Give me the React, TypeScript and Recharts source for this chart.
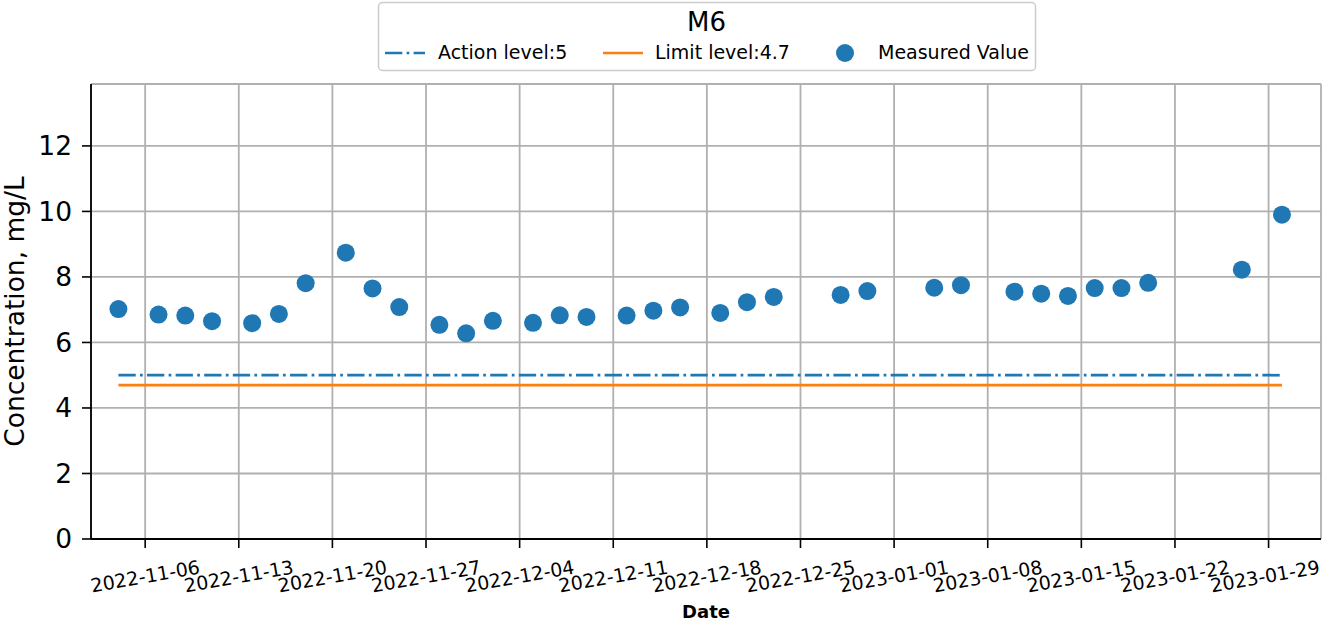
import React from 'react';
import { ScatterChart, Scatter, XAxis, YAxis, CartesianGrid, ReferenceLine } from 'recharts';

const sampleDates = [
  '2022-11-04', '2022-11-07', '2022-11-09', '2022-11-11', '2022-11-14', '2022-11-16', '2022-11-18',
  '2022-11-21', '2022-11-23', '2022-11-25', '2022-11-28', '2022-11-30', '2022-12-02', '2022-12-05',
  '2022-12-07', '2022-12-09', '2022-12-12', '2022-12-14', '2022-12-16', '2022-12-19', '2022-12-21',
  '2022-12-23', '2022-12-28', '2022-12-30', '2023-01-04', '2023-01-06', '2023-01-10', '2023-01-12',
  '2023-01-14', '2023-01-16', '2023-01-18', '2023-01-20', '2023-01-27', '2023-01-30',
];
const measuredValues = [
  7.02, 6.85, 6.82, 6.65, 6.59, 6.87, 7.81,
  8.74, 7.65, 7.08, 6.54, 6.28, 6.66, 6.6,
  6.83, 6.78, 6.82, 6.97, 7.07, 6.9, 7.23,
  7.39, 7.45, 7.57, 7.67, 7.75, 7.55, 7.49,
  7.42, 7.66, 7.66, 7.82, 8.22, 9.9,
];
const actionLevel = 5;
const limitLevel = 4.7;
const xTickDates = [
  '2022-11-06', '2022-11-13', '2022-11-20', '2022-11-27', '2022-12-04', '2022-12-11', '2022-12-18',
  '2022-12-25', '2023-01-01', '2023-01-08', '2023-01-15', '2023-01-22', '2023-01-29',
];
const yTicks = [0, 2, 4, 6, 8, 10, 12];
const xDomainDates = ['2022-11-01.95', '2023-02-01.92'];
const yDomain = [0, 13.89];

const ORIGIN = Date.UTC(2022, 10, 6);
const toDay = (s: string) => {
  const [d, frac] = s.split('.');
  const base = (Date.parse(d + 'T00:00:00Z') - ORIGIN) / 86400000;
  return frac ? base + parseFloat('0.' + frac) : base;
};
const dayToLabel = (v: number) => {
  const d = new Date(ORIGIN + Math.round(v) * 86400000);
  return d.toISOString().slice(0, 10);
};

const points = sampleDates.map((d, i) => ({ x: toDay(d), y: measuredValues[i] }));
const xTicks = xTickDates.map(toDay);
const firstX = toDay(sampleDates[0]);
const lastX = toDay(sampleDates[sampleDates.length - 1]);

const FONT = 'DejaVu Sans';
const BLUE = '#1f77b4';
const ORANGE = '#ff7f0e';
const DASHDOT = '17.3 4.3 2.7 4.3';

const XTick = (props: any) => {
  const { payload } = props;
  const x = Math.min(props.x, 1265);
  const cy = 576;
  return (
    <text
      x={x}
      y={cy}
      transform={`rotate(-10 ${x} ${cy})`}
      textAnchor="middle"
      dominantBaseline="central"
      fontFamily={FONT}
      fontSize={19}
      fill="#000"
    >
      {dayToLabel(payload.value)}
    </text>
  );
};

const Dot = (props: any) => <circle cx={props.cx} cy={props.cy} r={9} fill={BLUE} />;

export default function App() {
  return (
    <div style={{ position: 'absolute', left: 0, top: 0, width: 1322, height: 623, background: '#fff' }}>
      <ScatterChart width={1322} height={623} margin={{ top: 84, right: 1, bottom: 0, left: 0 }}>
        <CartesianGrid stroke="#b0b0b0" strokeWidth={1.8} />
        <XAxis
          type="number"
          dataKey="x"
          domain={[toDay(xDomainDates[0]), toDay(xDomainDates[1])]}
          ticks={xTicks}
          interval={0}
          allowDataOverflow
          height={84}
          tickSize={9}
          tickMargin={0}
          tick={<XTick />}
          tickLine={{ stroke: '#000', strokeWidth: 1.6 }}
          axisLine={{ stroke: '#000', strokeWidth: 1.8 }}
          label={(p: any) => {
            const vb = p.viewBox;
            return (
              <text x={vb.x + vb.width / 2} y={618} textAnchor="middle" fontFamily={FONT} fontWeight="bold" fontSize={18} fill="#000">
                Date
              </text>
            );
          }}
        />
        <XAxis xAxisId="top" type="number" dataKey="x" orientation="top" domain={[toDay(xDomainDates[0]), toDay(xDomainDates[1])]} height={0} tick={false} tickLine={false} axisLine={{ stroke: '#000', strokeWidth: 1.8 }} allowDataOverflow />
        <YAxis
          type="number"
          dataKey="y"
          domain={yDomain}
          ticks={yTicks}
          interval={0}
          allowDataOverflow
          width={91}
          tickSize={9}
          tickMargin={10}
          tick={{ fontFamily: FONT, fontSize: 26.5, fill: '#000' }}
          tickLine={{ stroke: '#000', strokeWidth: 1.6 }}
          axisLine={{ stroke: '#000', strokeWidth: 1.8 }}
          label={(p: any) => {
            const vb = p.viewBox;
            const cy = vb.y + vb.height / 2;
            return (
              <text x={24} y={cy} transform={`rotate(-90 24 ${cy})`} textAnchor="middle" fontFamily={FONT} fontSize={26.5} fill="#000">
                Concentration, mg/L
              </text>
            );
          }}
        />
        <YAxis yAxisId="right" orientation="right" type="number" domain={yDomain} width={0} tick={false} tickLine={false} axisLine={{ stroke: '#000', strokeWidth: 1.8 }} allowDataOverflow />
        <ReferenceLine
          segment={[{ x: firstX, y: actionLevel }, { x: lastX, y: actionLevel }]}
          stroke={BLUE}
          strokeWidth={2.7}
          strokeDasharray={DASHDOT}
        />
        <ReferenceLine
          segment={[{ x: firstX, y: limitLevel }, { x: lastX, y: limitLevel }]}
          stroke={ORANGE}
          strokeWidth={2.7}
        />
        <Scatter data={points} fill={BLUE} shape={<Dot />} isAnimationActive={false} />
      </ScatterChart>
      <svg width={1322} height={80} style={{ position: 'absolute', left: 0, top: 0 }}>
        <rect x={378.5} y={2.5} width={657} height={68} rx={4} fill="#fff" fillOpacity={0.8} stroke="#cccccc" strokeWidth={1.5} />
        <text x={706.5} y={31} textAnchor="middle" fontFamily={FONT} fontSize={26} fill="#000">M6</text>
        <line x1={385} y1={53} x2={425} y2={53} stroke={BLUE} strokeWidth={2.7} strokeDasharray={DASHDOT} />
        <text x={438} y={59} fontFamily={FONT} fontSize={19} fill="#000">Action level:5</text>
        <line x1={603} y1={53} x2={643} y2={53} stroke={ORANGE} strokeWidth={2.7} />
        <text x={655} y={59} fontFamily={FONT} fontSize={19} fill="#000">Limit level:4.7</text>
        <circle cx={845} cy={53} r={9} fill={BLUE} />
        <text x={878} y={59} fontFamily={FONT} fontSize={19} fill="#000">Measured Value</text>
      </svg>
    </div>
  );
}
